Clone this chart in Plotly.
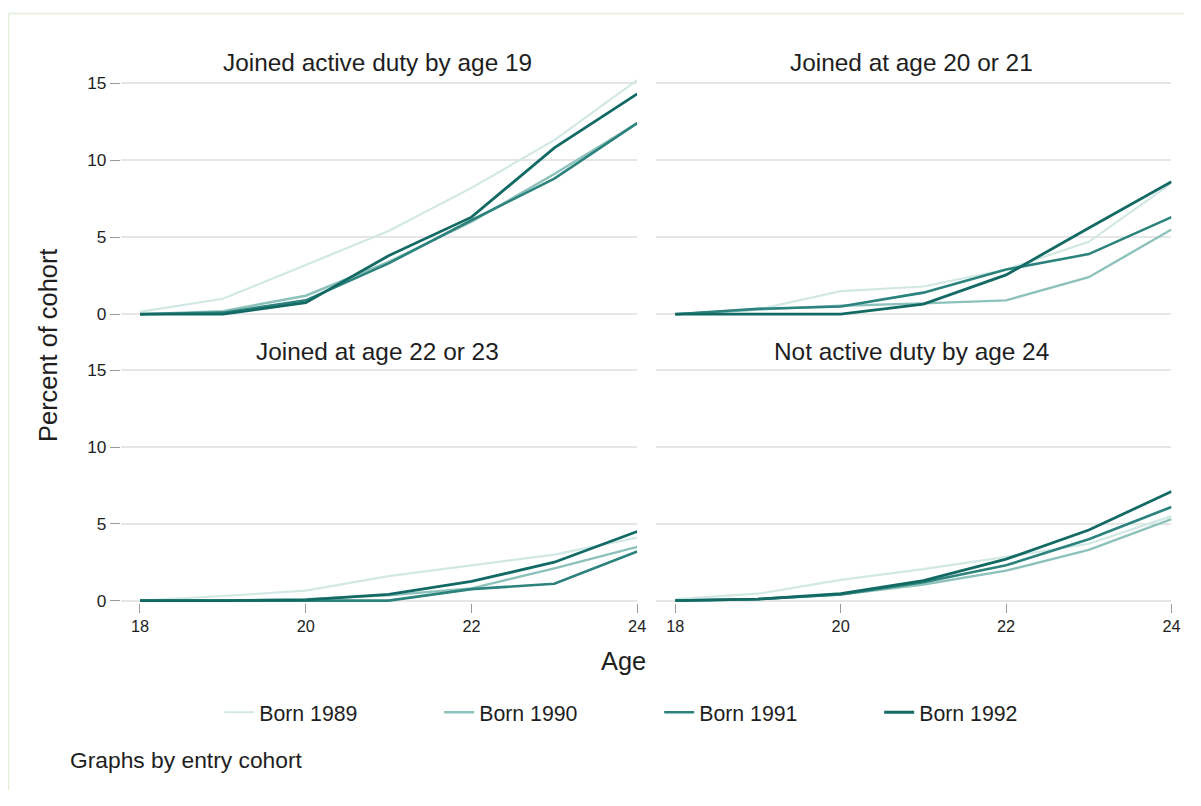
import plotly.graph_objects as go

# ---------------- data ----------------
ages = [18, 19, 20, 21, 22, 23, 24]
cohorts = ["Born 1989", "Born 1990", "Born 1991", "Born 1992"]
panel_titles = ["Joined active duty by age 19", "Joined at age 20 or 21",
                "Joined at age 22 or 23", "Not active duty by age 24"]
x_ticks = [18, 20, 22, 24]
y_ticks = [0, 5, 10, 15]

active19_1989 = [0.15, 1.0, 3.2, 5.4, 8.2, 11.3, 15.2]
active19_1990 = [0.0, 0.2, 1.2, 3.4, 6.0, 9.1, 12.4]
active19_1991 = [0.0, 0.1, 0.9, 3.3, 6.1, 8.8, 12.4]
active19_1992 = [0.0, 0.0, 0.75, 3.8, 6.3, 10.8, 14.3]

age2021_1989 = [0.0, 0.3, 1.5, 1.8, 2.9, 4.7, 8.5]
age2021_1990 = [0.0, 0.3, 0.55, 0.7, 0.9, 2.4, 5.5]
age2021_1991 = [0.0, 0.35, 0.5, 1.4, 2.9, 3.9, 6.3]
age2021_1992 = [0.0, 0.0, 0.0, 0.65, 2.55, 5.6, 8.6]

age2223_1989 = [0.0, 0.3, 0.65, 1.6, 2.3, 3.0, 4.1]
age2223_1990 = [0.0, 0.0, 0.1, 0.35, 0.8, 2.1, 3.5]
age2223_1991 = [0.0, 0.0, 0.0, 0.0, 0.75, 1.1, 3.2]
age2223_1992 = [0.0, 0.0, 0.05, 0.4, 1.25, 2.5, 4.5]

notactive_1989 = [0.1, 0.45, 1.35, 2.05, 2.85, 3.7, 5.5]
notactive_1990 = [0.0, 0.1, 0.4, 1.05, 1.95, 3.3, 5.3]
notactive_1991 = [0.0, 0.1, 0.4, 1.2, 2.3, 4.0, 6.1]
notactive_1992 = [0.0, 0.1, 0.45, 1.3, 2.7, 4.6, 7.1]

panels = [
    [active19_1989, active19_1990, active19_1991, active19_1992],
    [age2021_1989, age2021_1990, age2021_1991, age2021_1992],
    [age2223_1989, age2223_1990, age2223_1991, age2223_1992],
    [notactive_1989, notactive_1990, notactive_1991, notactive_1992],
]

# ---------------- style ----------------
W, H = 1185, 790
OFF = 8  # browser body margin
FONT = "Liberation Sans, Arial, sans-serif"
TEXT = "#1e1e1e"
colors = ["#d2e8e5", "#8dc1bb", "#2c827c", "#136a65"]
widths = [2.2, 2.4, 2.6, 2.8]
GRID = "#e6e6e6"
TICKC = "#9a9a9a"

X_RANGE = [17.77, 24.0]
Y_RANGE = [-0.15, 15.3]

# panel pixel boxes in page coords (left, right), (top, bottom)
col_px = [(121.8, 642.0), (661.2, 1180.4)]
row_px = [(74.6, 316.6), (366.5, 607.8)]


def px(xp):
    return (xp - OFF) / W


def py(yp):
    return 1 - (yp - OFF) / H


fig = go.Figure()

for p in range(4):
    suffix = "" if p == 0 else str(p + 1)
    for i, series in enumerate(panels[p]):
        fig.add_trace(go.Scatter(
            x=ages, y=series, mode="lines", name=cohorts[i],
            legendgroup=cohorts[i], showlegend=(p == 0),
            line=dict(color=colors[i], width=widths[i]),
            xaxis="x" + suffix, yaxis="y" + suffix,
        ))

layout = dict(
    width=W, height=H,
    margin=dict(l=0, r=0, t=0, b=0),
    paper_bgcolor="white", plot_bgcolor="white",
    font=dict(family=FONT, color=TEXT),
    showlegend=True,
)

for p in range(4):
    r, c = divmod(p, 2)
    suffix = "" if p == 0 else str(p + 1)
    bottom = (r == 1)
    left = (c == 0)
    layout["xaxis" + suffix] = dict(
        domain=[px(col_px[c][0]), px(col_px[c][1])], range=X_RANGE,
        anchor="y" + suffix,
        tickvals=x_ticks, showticklabels=bottom,
        ticks="outside" if bottom else "", ticklen=9, tickwidth=1.3,
        tickcolor=TICKC, showgrid=False, zeroline=False, showline=False,
        tickfont=dict(size=16.3, color=TEXT),
    )
    layout["yaxis" + suffix] = dict(
        domain=[py(row_px[r][1]), py(row_px[r][0])], range=Y_RANGE,
        anchor="x" + suffix,
        tickvals=y_ticks, showticklabels=left,
        ticks="outside" if left else "", ticklen=10, tickwidth=1.3,
        tickcolor=TICKC, showgrid=True, gridcolor=GRID, gridwidth=1.6,
        zeroline=False, showline=False,
        tickfont=dict(size=17.3, color=TEXT),
    )

fig.update_layout(**layout)

annotations = []
title_y_px = [57.9, 351.9]
for p in range(4):
    r, c = divmod(p, 2)
    cx = (col_px[c][0] + col_px[c][1]) / 2
    annotations.append(dict(
        text=panel_titles[p], x=px(cx - 2), y=py(title_y_px[r]),
        xref="paper", yref="paper", xanchor="center", yanchor="middle",
        showarrow=False, font=dict(size=24.4, color=TEXT, family=FONT)))

annotations.append(dict(
    text="Percent of cohort", x=px(49), y=py(345.8), textangle=-90,
    xref="paper", yref="paper", xanchor="center", yanchor="middle",
    showarrow=False, font=dict(size=25.4, color=TEXT, family=FONT)))
annotations.append(dict(
    text="Age", x=px(627.9), y=py(667.2),
    xref="paper", yref="paper", xanchor="center", yanchor="middle",
    showarrow=False, font=dict(size=25.4, color=TEXT, family=FONT)))
annotations.append(dict(
    text="Graphs by entry cohort", x=px(68.3), y=py(768),
    xref="paper", yref="paper", xanchor="left", yanchor="middle",
    showarrow=False, font=dict(size=22.8, color=TEXT, family=FONT)))

fig.update_layout(
    annotations=annotations,
    legend=dict(
        orientation="h", x=px(220.8), y=py(719.1), xanchor="left",
        yanchor="middle", entrywidth=175, entrywidthmode="pixels",
        font=dict(size=21.3, color=TEXT, family=FONT),
        bgcolor="rgba(0,0,0,0)", itemwidth=30, tracegroupgap=0,
    ),
    shapes=[
        dict(type="line", xref="paper", yref="paper",
             x0=0.6 / W, x1=1, y0=1 - 0.6 / H, y1=1 - 0.6 / H,
             line=dict(color="#e3efd8", width=1.5), layer="below"),
        dict(type="line", xref="paper", yref="paper",
             x0=0.6 / W, x1=0.6 / W, y0=0, y1=1 - 0.6 / H,
             line=dict(color="#e3efd8", width=1.5), layer="below"),
    ],
)

fig.write_html("out.html")
